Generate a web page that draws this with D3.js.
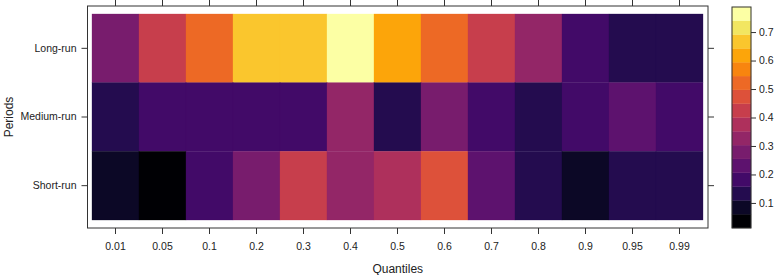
<!DOCTYPE html>
<html>
<head>
<meta charset="UTF-8">
<script src="https://d3js.org/d3.v7.min.js"></script>
<style>
  body { margin: 0; background: white; }
  text { font-family: "Liberation Sans", Arial, sans-serif; fill: #222; }
</style>
</head>
<body>
<svg id="chart" width="775" height="275"></svg>
<script>
const quantiles = ["0.01", "0.05", "0.1", "0.2", "0.3", "0.4", "0.5", "0.6", "0.7", "0.8", "0.9", "0.95", "0.99"];
const periods = ["Long-run", "Medium-run", "Short-run"];
const longRun   = [0.28, 0.42, 0.52, 0.66, 0.67, 0.788, 0.62, 0.52, 0.43, 0.33, 0.18, 0.13, 0.13];
const mediumRun = [0.13, 0.18, 0.18, 0.18, 0.18, 0.33, 0.13, 0.28, 0.18, 0.13, 0.18, 0.23, 0.18];
const shortRun  = [0.08, 0.012, 0.18, 0.28, 0.42, 0.33, 0.38, 0.47, 0.23, 0.13, 0.08, 0.13, 0.13];
const colorTicks = [0.1, 0.2, 0.3, 0.4, 0.5, 0.6, 0.7];
const nLevels = 16;

const series = [longRun, mediumRun, shortRun];
const cells = [];
periods.forEach((p, j) => quantiles.forEach((q, i) => cells.push({ q, p, v: series[j][i] })));

const svg = d3.select("#chart");
const panel = { left: 87.5, right: 708, top: 6, bottom: 228 };

const x = d3.scaleBand().domain(quantiles).range([92, 703]);
const y = d3.scaleBand().domain(periods).range([14, 220]);

// inferno(16), cut evenly over the data range like levelplot
const ext = d3.extent(cells, d => d.v);
const palette = d3.range(nLevels).map(i => d3.interpolateInferno(i / (nLevels - 1)));
const color = d3.scaleQuantize().domain(ext).range(palette);

// cells
svg.append("g").selectAll("rect")
  .data(cells)
  .enter().append("rect")
  .attr("x", d => x(d.q))
  .attr("y", d => y(d.p))
  .attr("width", x.bandwidth())
  .attr("height", y.bandwidth())
  .attr("fill", d => color(d.v))
  .attr("stroke", d => color(d.v))
  .attr("stroke-width", 0.3);

// panel border
svg.append("rect")
  .attr("x", panel.left).attr("y", panel.top)
  .attr("width", panel.right - panel.left).attr("height", panel.bottom - panel.top)
  .attr("fill", "none").attr("stroke", "#333").attr("stroke-width", 1);

// axes
const ax = svg.append("g").attr("transform", `translate(0,${panel.bottom})`)
  .call(d3.axisBottom(x).tickSizeInner(6).tickSizeOuter(0).tickPadding(9));
ax.select(".domain").remove();
ax.selectAll("text").style("font-size", "10.5px");

const axTop = svg.append("g").attr("transform", `translate(0,${panel.top})`)
  .call(d3.axisTop(x).tickSizeInner(6).tickSizeOuter(0).tickFormat(""));
axTop.select(".domain").remove();

const ay = svg.append("g").attr("transform", `translate(${panel.left},0)`)
  .call(d3.axisLeft(y).tickSizeInner(6).tickSizeOuter(0).tickPadding(5));
ay.select(".domain").remove();
ay.selectAll("text").style("font-size", "10.5px");

const ayR = svg.append("g").attr("transform", `translate(${panel.right},0)`)
  .call(d3.axisRight(y).tickSizeInner(6).tickSizeOuter(0).tickFormat(""));
ayR.select(".domain").remove();

svg.selectAll(".tick line").attr("stroke", "#333");

svg.append("text")
  .attr("x", (panel.left + panel.right) / 2)
  .attr("y", 273)
  .attr("text-anchor", "middle")
  .style("font-size", "12px")
  .text("Quantiles");

svg.append("text")
  .attr("transform", `translate(13,${(panel.top + panel.bottom) / 2}) rotate(-90)`)
  .attr("text-anchor", "middle")
  .style("font-size", "12px")
  .text("Periods");

// colour key
const key = { left: 732, right: 751, top: 7, bottom: 228 };
const ky = d3.scaleLinear().domain(ext).range([key.bottom, key.top]);
const step = (ext[1] - ext[0]) / nLevels;
svg.append("g").selectAll("rect")
  .data(palette)
  .enter().append("rect")
  .attr("x", key.left)
  .attr("width", key.right - key.left)
  .attr("y", (c, i) => ky(ext[0] + (i + 1) * step))
  .attr("height", (c, i) => ky(ext[0] + i * step) - ky(ext[0] + (i + 1) * step))
  .attr("fill", c => c)
  .attr("stroke", c => c)
  .attr("stroke-width", 0.3);

svg.append("rect")
  .attr("x", key.left).attr("y", key.top)
  .attr("width", key.right - key.left).attr("height", key.bottom - key.top)
  .attr("fill", "none").attr("stroke", "#333");

const ak = svg.append("g").attr("transform", `translate(${key.right},0)`)
  .call(d3.axisRight(ky).tickValues(colorTicks).tickSizeInner(5).tickSizeOuter(0).tickPadding(3).tickFormat(d3.format(".1f")));
ak.select(".domain").remove();
ak.selectAll("text").style("font-size", "10.5px");
ak.selectAll(".tick line").attr("stroke", "#333");
</script>
</body>
</html>
